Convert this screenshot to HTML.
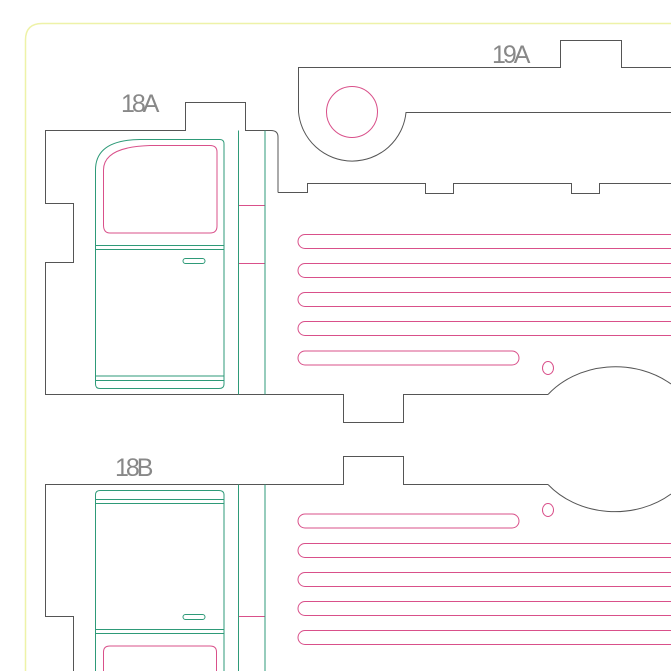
<!DOCTYPE html>
<html><head><meta charset="utf-8"><style>
html,body{margin:0;padding:0;background:#fff;width:671px;height:671px;overflow:hidden;}
svg{display:block;}
text{font-family:"Liberation Sans",sans-serif;font-weight:normal;}
</style></head><body>
<svg width="671" height="671" viewBox="0 0 671 671" xmlns="http://www.w3.org/2000/svg" fill="none">
<rect width="671" height="671" fill="#fff"/>
<path d="M25.5,671 V40 Q25.5,23.5 42,23.5 H671" stroke="#eef2a8" stroke-width="1.5"/>

<g stroke="#555" stroke-width="1">
<path d="M278,192.5 V137 Q278,130.5 271,130.5 H245.5 V102.5 H185.5 V130.5 H45.5 V203.5 H73.5 V262.5 H45.5 V394.5 H343.5 V422.5 H403.5 V394.5 H548"/>
<path d="M278,192.5 H307.5 V183.5 H425.5 V193.5 H453.5 V183.5 H571.5 V193.5 H599.5 V183.5 H671"/>
<path d="M548,394.5 A86,73 0 0 1 671,384"/>
<path d="M73.5,671 V616.5 H45.5 V484.5 H343.5 V456.5 H403.5 V484.5 H548"/>
<path d="M548,484.5 A86,73 0 0 0 671,494"/>
<path d="M671,67.5 H621.5 V40.5 H560.5 V67.5 H298.5 V112 A54,54 0 0 0 406,112.5 H671"/>
</g>

<g fill="#888" font-size="25" letter-spacing="-3">
<text x="121" y="112">18A</text>
<text x="492" y="63">19A</text>
<text x="115" y="476">18B</text>
</g>

<g stroke="#d9508a" stroke-width="1">
<circle cx="352" cy="112" r="25.5"/>
<ellipse cx="548" cy="368" rx="5.5" ry="6.5"/>
<ellipse cx="548" cy="510" rx="5.5" ry="6.5"/>
<path d="M103.5,225 V170 Q103.5,147 150,145.5 H210 Q217,145.5 217,152 V226 Q217,233 210,233 H110 Q103.5,233 103.5,225 Z"/>
<rect x="238.5" y="205.5" width="26.5" height="58"/>
<path d="M238.5,616.5 H265"/>
<path d="M103.5,671 V652 Q103.5,646 110,646 H210 Q216.5,646 216.5,652 V671"/>
<path d="M671,234.5 H305 a7,7 0 0 0 0,14 H671"/>
<path d="M671,263.5 H305 a7,7 0 0 0 0,14 H671"/>
<path d="M671,292.5 H305 a7,7 0 0 0 0,14 H671"/>
<path d="M671,321.5 H305 a7,7 0 0 0 0,14 H671"/>
<rect x="298" y="351" width="221" height="14" rx="7"/>
<rect x="298" y="514" width="221" height="14" rx="7"/>
<path d="M671,543.5 H305 a7,7 0 0 0 0,14 H671"/>
<path d="M671,572.5 H305 a7,7 0 0 0 0,14 H671"/>
<path d="M671,601.5 H305 a7,7 0 0 0 0,14 H671"/>
<path d="M671,630.5 H305 a7,7 0 0 0 0,14 H671"/>
</g>

<g stroke="#2e9a78" stroke-width="1">
<path d="M95.5,384 V170 Q95.5,140 140,139.5 H220 Q224,139.5 224,144 V384 Q224,388.5 219,388.5 H100 Q95.5,388.5 95.5,384 Z"/>
<path d="M95.5,245.5 H224 M95.5,249.5 H224 M95.5,376 H224 M95.5,380.5 H224"/>
<rect x="183" y="258.5" width="22" height="5" rx="2.5"/>
<path d="M238.5,130.5 V394.5 M265,130.5 V394.5"/>
<path d="M95.5,671 V495 Q95.5,490.5 100,490.5 H219 Q224,490.5 224,495 V671"/>
<path d="M95.5,499.5 H224 M95.5,503.5 H224 M95.5,629.5 H224 M95.5,633.5 H224"/>
<rect x="183" y="614.5" width="22" height="5" rx="2.5"/>
<path d="M238.5,484.5 V671 M265,484.5 V671"/>
</g>
</svg>
</body></html>
